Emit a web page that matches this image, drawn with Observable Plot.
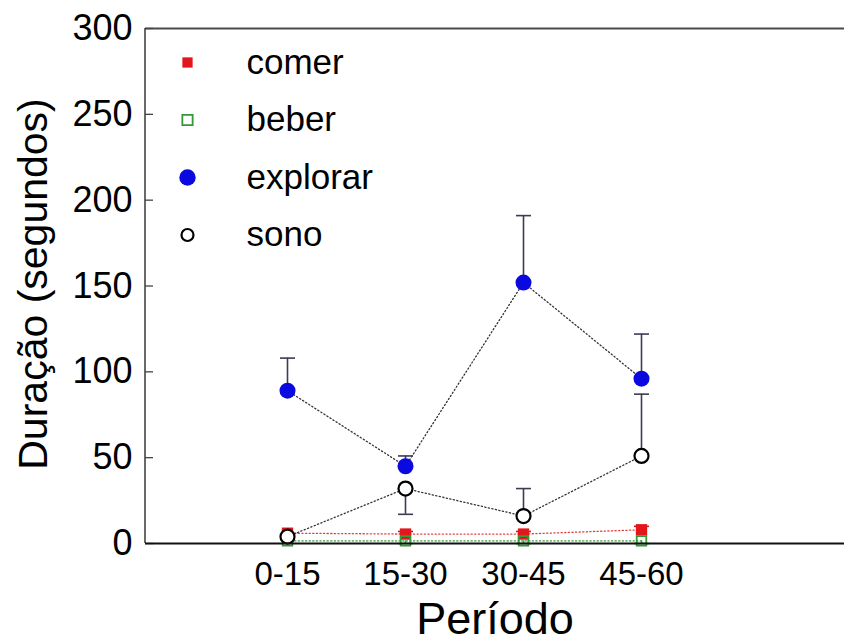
<!DOCTYPE html>
<html>
<head>
<meta charset="utf-8">
<script src="https://cdn.jsdelivr.net/npm/d3@7"></script>
<script src="https://cdn.jsdelivr.net/npm/@observablehq/plot@0.6"></script>
<style>
  html, body { margin: 0; padding: 0; background: #fff; }
  #chart svg { display: block; }
</style>
</head>
<body>
<div id="chart"></div>
<script>
// ---- data ----
const periods = ["0-15", "15-30", "30-45", "45-60"];
const seriesNames = ["comer", "beber", "explorar", "sono"];
const yTicks = [0, 50, 100, 150, 200, 250, 300];

const comerValues = [6, 5.5, 5.5, 8];
const comerBarEnds = [6, 7, 7, 10];
const beberValues = [1.5, 1.5, 1.5, 1.5];
const beberBarEnds = [1.5, 0, 0, 0];
const explorarValues = [89, 45, 152, 96];
const explorarBarEnds = [108, 51, 191, 122];
const sonoValues = [4, 32, 16, 51];
const sonoBarEnds = [4, 17, 32, 87];

// ---- styles ----
const styles = {
  comer:    {symbol: "square", r: 6.4, fill: "#e3161c", stroke: "none", strokeWidth: 0, line: "#e0403f", bar: "#c0202a"},
  beber:    {symbol: "square", r: 5.4, fill: "none", stroke: "#2f9a37", strokeWidth: 1.8, line: "#3a9a3a", bar: "#2f9a37"},
  explorar: {symbol: "circle", r: 8, fill: "#0a0ae0", stroke: "none", strokeWidth: 0, line: "#333", bar: "#3b3b52"},
  sono:     {symbol: "circle", r: 7, fill: "#fff", stroke: "#000", strokeWidth: 2.2, line: "#333", bar: "#3b3b52"}
};

// horizontal cap symbol for error bars
const capSymbol = {
  draw(context, size) {
    const h = Math.sqrt(size / Math.PI);
    context.moveTo(-h, 0);
    context.lineTo(h, 0);
  }
};

const table = {
  comer: periods.map((p, i) => ({period: p, value: comerValues[i], barEnd: comerBarEnds[i]})),
  beber: periods.map((p, i) => ({period: p, value: beberValues[i], barEnd: beberBarEnds[i]})),
  explorar: periods.map((p, i) => ({period: p, value: explorarValues[i], barEnd: explorarBarEnds[i]})),
  sono: periods.map((p, i) => ({period: p, value: sonoValues[i], barEnd: sonoBarEnds[i]}))
};

const font = "'Liberation Sans', Arial, Helvetica, sans-serif";

const marks = [];

// frame: left axis line (function mark using the y scale), top line
marks.push((index, scales, values, dims) => {
  const line = document.createElementNS("http://www.w3.org/2000/svg", "line");
  line.setAttribute("x1", dims.marginLeft);
  line.setAttribute("x2", dims.marginLeft);
  line.setAttribute("y1", scales.y(0));
  line.setAttribute("y2", scales.y(300));
  line.setAttribute("stroke", "#444");
  line.setAttribute("stroke-width", 1.6);
  return line;
});
marks.push(Plot.ruleY([300], {stroke: "#4a4a4a", strokeWidth: 2}));

// axes
marks.push(Plot.axisY({ticks: yTicks, tickSize: -8, tickPadding: 21, fontSize: 36, label: null, stroke: "#444", strokeWidth: 1.3}));
marks.push(Plot.axisX({tickSize: 0, tickPadding: 18, fontSize: 33, label: null}));

// dotted connecting lines
for (const name of seriesNames) {
  const s = styles[name];
  marks.push(Plot.line(table[name], {x: "period", y: "value", stroke: s.line, strokeWidth: 1.3, strokeDasharray: "1.2,2.4"}));
}

// error bars
for (const name of seriesNames) {
  const s = styles[name];
  const d = table[name].filter(r => r.barEnd !== r.value);
  marks.push(Plot.ruleX(d, {x: "period", y1: "value", y2: "barEnd", stroke: s.bar, strokeWidth: 1.6}));
  marks.push(Plot.dot(d, {x: "period", y: "barEnd", symbol: capSymbol, r: 7.5, fill: "none", stroke: s.bar, strokeWidth: 1.6}));
}

// markers
for (const name of seriesNames) {
  const s = styles[name];
  marks.push(Plot.dot(table[name], {x: "period", y: "value", symbol: s.symbol, r: s.r, fill: s.fill, stroke: s.stroke, strokeWidth: s.strokeWidth}));
}

marks.push(Plot.ruleY([0], {stroke: "#111", strokeWidth: 2}));

// legend inside plot
seriesNames.forEach((name, i) => {
  const s = styles[name];
  const dy = 34 + i * 57.5;
  marks.push(Plot.dot([name], {x: null, y: null, frameAnchor: "top-left", dx: 42, dy, symbol: s.symbol,
    r: name === "sono" ? 6 : name === "explorar" ? 8.2 : 5.8,
    fill: s.fill, stroke: s.stroke, strokeWidth: s.strokeWidth}));
  marks.push(Plot.text([name], {x: null, y: null, text: d => d, frameAnchor: "top-left", dx: 101, dy, textAnchor: "start", lineAnchor: "middle", fontSize: 35, fill: "#000"}));
});

// axis titles
marks.push(Plot.text(["Período"], {x: null, y: null, text: d => d, frameAnchor: "bottom", dy: 90, textAnchor: "middle", lineAnchor: "bottom", fontSize: 45, fill: "#000"}));
marks.push(Plot.text(["Duração (segundos)"], {x: null, y: null, text: d => d, frameAnchor: "left", dx: -112, dy: -2, rotate: -90, textAnchor: "middle", lineAnchor: "middle", fontSize: 41, fill: "#000"}));

const chart = Plot.plot({
  width: 844,
  height: 643,
  marginLeft: 145,
  marginRight: 0,
  marginTop: 28,
  marginBottom: 100,
  style: {fontFamily: font, background: "#fff", color: "#000", overflow: "visible"},
  x: {type: "point", domain: periods, range: [286, 641], padding: 0},
  y: {domain: [0, 300]},
  marks
});
document.getElementById("chart").appendChild(chart);
</script>
</body>
</html>
